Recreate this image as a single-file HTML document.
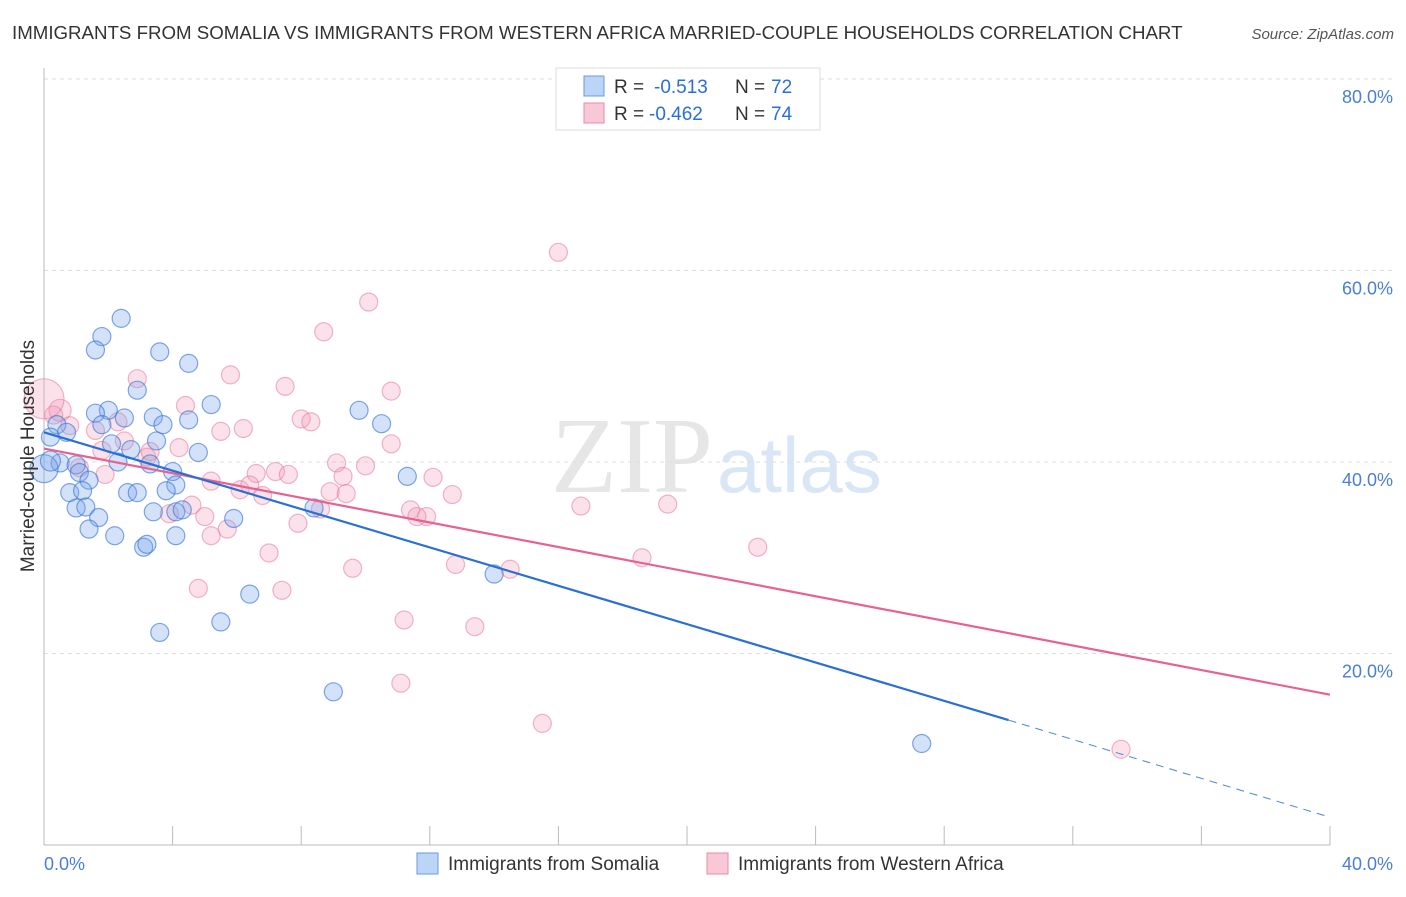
<!DOCTYPE html>
<html><head><meta charset="utf-8"><style>
body{margin:0;background:#fff;font-family:"Liberation Sans",sans-serif;}
</style></head><body>
<svg width="1406" height="892" viewBox="0 0 1406 892" xmlns="http://www.w3.org/2000/svg">
<text x="12" y="39" font-size="18.7" fill="#333">IMMIGRANTS FROM SOMALIA VS IMMIGRANTS FROM WESTERN AFRICA MARRIED-COUPLE HOUSEHOLDS CORRELATION CHART</text>
<text x="1394" y="39" font-size="15" fill="#555" font-style="italic" text-anchor="end">Source: ZipAtlas.com</text>
<text x="713" y="492" font-size="108" fill="#e6e6e6" text-anchor="end" font-family="Liberation Serif,serif">ZIP</text>
<text x="717" y="492" font-size="78" fill="#d9e6f5">atlas</text>
<g id="grid"></g>
<g id="axes"></g>
<g id="pts"></g>
<g id="lines"></g>
<text x="34" y="456" font-size="19" fill="#333" text-anchor="middle" transform="rotate(-90 34 456)">Married-couple Households</text>
<text x="44" y="870" font-size="18" fill="#4a7fd4">0.0%</text>
<text x="1393" y="870" font-size="18" fill="#4a7fd4" text-anchor="end">40.0%</text>
<g>
<rect x="556" y="68" width="264" height="62" fill="#fff" stroke="#ddd"/>
<rect x="584" y="76" width="20" height="20" fill="#bcd4f6" stroke="#6a9ae0"/>
<text x="614" y="93" font-size="19" fill="#333">R =</text>
<text x="654" y="93" font-size="19" fill="#2a6fd6">-0.513</text>
<text x="735" y="93" font-size="19" fill="#333">N =</text>
<text x="771" y="93" font-size="19" fill="#2a6fd6">72</text>
<rect x="584" y="103" width="20" height="20" fill="#f8c8d6" stroke="#e88aa8"/>
<text x="614" y="120" font-size="19" fill="#333">R =</text>
<text x="649" y="120" font-size="19" fill="#2a6fd6">-0.462</text>
<text x="735" y="120" font-size="19" fill="#333">N =</text>
<text x="771" y="120" font-size="19" fill="#2a6fd6">74</text>
</g>
<g>
<rect x="417" y="853" width="21" height="21" fill="#bcd4f6" stroke="#6a9ae0"/>
<text x="448" y="870" font-size="19" fill="#333">Immigrants from Somalia</text>
<rect x="707" y="853" width="21" height="21" fill="#f8c8d6" stroke="#e88aa8"/>
<text x="738" y="870" font-size="19" fill="#333">Immigrants from Western Africa</text>
</g>
</svg>
<script>
const yTicks=[20,40,60,80];
const xTicks=[0,4,8,12,16,20,24,28,32,36,40];
const blueX=[2.4,1.8,1.6,3.6,4.5,2.9,5.2,2.0,9.8,10.5,1.6,3.4,2.5,4.5,3.7,1.8,0.4,0.7,3.5,0.2,4.8,2.7,2.3,0.5,1.0,3.3,4.0,1.1,11.3,4.1,1.4,0.8,1.2,2.6,2.9,3.8,1.0,1.3,3.4,4.1,4.3,1.7,8.4,5.9,1.4,2.2,4.1,3.1,3.2,14.0,6.4,5.5,3.6,9.0,27.3,0.0,0.2,2.1];
const blueY=[55.0,53.1,51.7,51.5,50.3,47.5,46.0,45.4,45.4,44.0,45.1,44.7,44.6,44.4,43.9,43.9,43.9,43.1,42.2,42.6,41.0,41.3,40.0,39.9,39.7,39.8,39.0,38.9,38.5,37.6,38.1,36.8,37.0,36.8,36.8,37.0,35.2,35.3,34.8,34.8,35.0,34.2,35.2,34.1,33.0,32.3,32.3,31.1,31.4,28.3,26.2,23.3,22.2,16.0,10.6,39.3,40.1,41.9];
const blueR=[9,9,9,9,9,9,9,9,9,9,9,9,9,9,9,9,9,9,9,9,9,9,9,9,9,9,9,9,9,9,9,9,9,9,9,9,9,9,9,9,9,9,9,9,9,9,9,9,9,9,9,9,9,9,9,14,10,9];
const pinkX=[16.0,10.1,8.7,2.9,5.8,7.5,10.8,4.4,0.5,0.3,8.0,8.3,6.2,5.5,0.8,1.6,2.5,10.8,4.2,3.2,1.8,9.1,10.0,9.3,12.1,7.2,7.6,6.6,1.1,5.2,1.9,6.1,6.4,8.9,6.8,9.4,12.7,19.4,16.7,4.6,3.9,8.6,11.4,5.0,11.9,11.6,7.9,5.7,5.2,22.2,7.0,18.6,12.8,14.5,9.6,4.8,7.4,11.2,13.4,11.1,15.5,33.5,0.0,3.3,2.3];
const pinkY=[61.9,56.7,53.6,48.7,49.1,47.9,47.4,45.9,45.4,44.9,44.5,44.2,43.5,43.2,43.8,43.3,42.2,41.9,41.5,40.5,41.2,39.9,39.6,38.5,38.4,39.0,38.7,38.8,39.4,38.0,38.7,37.1,37.6,36.9,36.5,36.7,36.6,35.6,35.4,35.5,34.6,35.1,35.0,34.3,34.3,34.3,33.6,33.0,32.3,31.1,30.5,30.0,29.3,28.8,28.9,26.8,26.6,23.5,22.8,16.9,12.7,10.0,46.6,41.1,44.2];
const pinkR=pinkX.map((_,i)=>i===62?20:(i===8?11:9));
const blueLine=[[0,43.1],[30,13.05]], blueDash=[[30,13.05],[40,2.9]];
const pinkLine=[[0,41.4],[40,15.7]];
const X=v=>44+v/40*1286, Y=v=>845-v/20*191.5;
const NS='http://www.w3.org/2000/svg';
function mk(t,a,p){const e=document.createElementNS(NS,t);for(const k in a)e.setAttribute(k,a[k]);document.getElementById(p).appendChild(e);return e;}
yTicks.forEach(t=>{
 const l=mk('line',{x1:44,x2:1393,y1:Y(t),y2:Y(t),stroke:'#ddd','stroke-dasharray':'4,4'},'grid');
 
 
 const tx=mk('text',{x:1393,y:Y(t)+24,'font-size':18,fill:'#4a7fd4','text-anchor':'end'},'grid');
 tx.textContent=t.toFixed(1)+'%';
 
 
});
const ax=mk('line',{x1:44,x2:44,y1:68,y2:845,stroke:'#bbb'},'axes');


const bx=mk('line',{x1:44,x2:1330,y1:845,y2:845,stroke:'#bbb'},'axes');


xTicks.forEach(t=>{
 const l=mk('line',{x1:X(t),x2:X(t),y1:826,y2:845,stroke:'#bbb'},'axes');
 
 
});
pinkX.forEach((v,i)=>{
 const c=mk('circle',{cx:X(v),cy:Y(pinkY[i]),r:pinkR[i],fill:'rgba(242,150,178,0.28)',stroke:'rgba(232,120,155,0.55)','stroke-width':1.2},'pts');
 
 
});
blueX.forEach((v,i)=>{
 const c=mk('circle',{cx:X(v),cy:Y(blueY[i]),r:blueR[i],fill:'rgba(120,165,235,0.32)',stroke:'rgba(60,120,215,0.65)','stroke-width':1.2},'pts');
 
 
});
function ln(d,col,dash,name){
 const a={x1:X(d[0][0]),y1:Y(d[0][1]),x2:X(d[1][0]),y2:Y(d[1][1]),stroke:col,'stroke-width':dash?1:2.2};
 if(dash)a['stroke-dasharray']='8,6';
 const l=mk('line',a,'lines');
 
 
}
ln(pinkLine,'#e8628f',false,'trendline-western-africa');
ln(blueLine,'#2a6fd6',false,'trendline-somalia');
ln(blueDash,'#4a86d8',true,'trendline-somalia-extension');
</script>
</body></html>
